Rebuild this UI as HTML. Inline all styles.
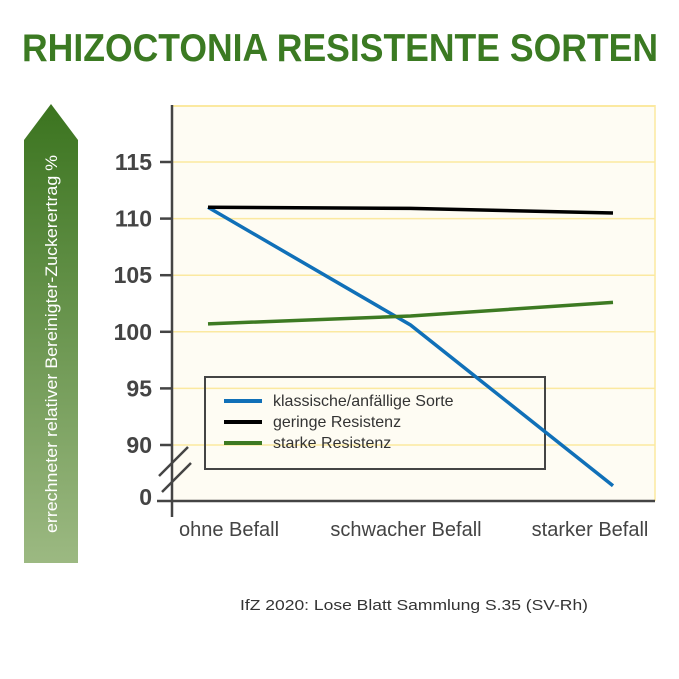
<!DOCTYPE html>
<html><head><meta charset="utf-8"><style>
body{margin:0;background:#fff;}
svg{display:block;font-family:"Liberation Sans",Arial,sans-serif;}
</style></head><body>
<svg id="chart" width="679" height="679" viewBox="0 0 679 679" xmlns="http://www.w3.org/2000/svg">
<defs>
<linearGradient id="ag" x1="0" y1="0" x2="0" y2="1">
<stop offset="0" stop-color="#3b741f"/><stop offset="1" stop-color="#9cb982"/>
</linearGradient>
</defs>
<text x="22" y="61" font-size="39" font-weight="bold" fill="#3b7a22" textLength="636" lengthAdjust="spacingAndGlyphs">RHIZOCTONIA RESISTENTE SORTEN</text>
<polygon points="51,104 78,140 78,563 24,563 24,140" fill="url(#ag)"/>
<text transform="translate(57,533) rotate(-90)" font-size="17" fill="#fff" textLength="378" lengthAdjust="spacingAndGlyphs">errechneter relativer Bereinigter-Zuckerertrag %</text>
<rect x="172" y="105" width="483" height="396" fill="#fefcf3"/>
<line x1="172" y1="106" x2="655" y2="106" stroke="#fbe9a0" stroke-width="2"/>
<line x1="655" y1="105" x2="655" y2="501" stroke="#fbe9a0" stroke-width="1.5"/>
<g id="grid"></g>
<g id="ticks"></g>
<line x1="172" y1="105" x2="172" y2="517" stroke="#444" stroke-width="2.5"/>
<line x1="157" y1="501" x2="655" y2="501" stroke="#444" stroke-width="2.5"/>
<line x1="159" y1="476" x2="188" y2="447" stroke="#444" stroke-width="2.5"/>
<line x1="162" y1="492" x2="191" y2="463" stroke="#444" stroke-width="2.5"/>
<g id="xlabels"></g>
<g>
<rect x="205" y="377" width="340" height="92" fill="none" stroke="#444" stroke-width="2"/>
</g>
<g id="series"></g>
<g id="legendItems"></g>
<text x="240" y="610" font-size="15" fill="#333" textLength="348" lengthAdjust="spacingAndGlyphs">IfZ 2020: Lose Blatt Sammlung S.35 (SV-Rh)</text>
</svg>
<script>
const categories = ["ohne Befall","schwacher Befall","starker Befall"];
const seriesNames = ["klassische/anfällige Sorte","geringe Resistenz","starke Resistenz"];
const seriesColors = ["#1070b8","#000000","#3d7a22"];
const blueValues = [111.0, 100.6, 86.4];
const blackValues = [111.0, 110.9, 110.5];
const greenValues = [100.7, 101.4, 102.6];
const tickValues = [90,95,100,105,110,115];
const tickLabels = ["90","95","100","105","110","115"];
const NS="http://www.w3.org/2000/svg";
function y(v){return 445 - (v-90)*56.6/5;}
function x(i){return 208 + i*202.5;}
function mk(tag,attrs,parent){const e=document.createElementNS(NS,tag);for(const k in attrs)e.setAttribute(k,attrs[k]);parent.appendChild(e);return e;}
const grid=document.getElementById('grid'),ticks=document.getElementById('ticks');
tickValues.forEach((v,i)=>{
  const g=mk('line',{x1:172,x2:655,y1:y(v),y2:y(v),stroke:'#fbe9a0','stroke-width':1.5},grid);
  
  
  const t=mk('line',{x1:160,x2:172,y1:y(v),y2:y(v),stroke:'#444','stroke-width':2.5},ticks);
  
  
  const l=mk('text',{x:152,y:y(v)+8,'text-anchor':'end','font-size':23,'font-weight':'bold',fill:'#444'},ticks);
  l.textContent=tickLabels[i];
  
  
});
const z=mk('text',{x:152,y:505,'text-anchor':'end','font-size':23,'font-weight':'bold',fill:'#444'},ticks);
z.textContent='0';


const xl=document.getElementById('xlabels');
const xpos=[229,406,590];
categories.forEach((c,i)=>{
  const t=mk('text',{x:xpos[i],y:536,'text-anchor':'middle','font-size':20,fill:'#444'},xl);
  t.textContent=c;
  
  
});
const ser=document.getElementById('series');
[blueValues,blackValues,greenValues].forEach((vals,s)=>{
  const p=mk('polyline',{points:vals.map((v,i)=>x(i)+','+y(v)).join(' '),fill:'none',stroke:seriesColors[s],'stroke-width':3.5},ser);
  
  
});
ser.appendChild(ser.children[1]);
const li=document.getElementById('legendItems');
seriesNames.forEach((n,i)=>{
  const yy=401+i*21;
  const l=mk('line',{x1:224,x2:262,y1:yy,y2:yy,stroke:seriesColors[i],'stroke-width':4},li);
  
  
  const t=mk('text',{x:273,y:yy+5,'font-size':16,fill:'#333'},li);
  t.textContent=n;
  
  
});
</script>
</body></html>
